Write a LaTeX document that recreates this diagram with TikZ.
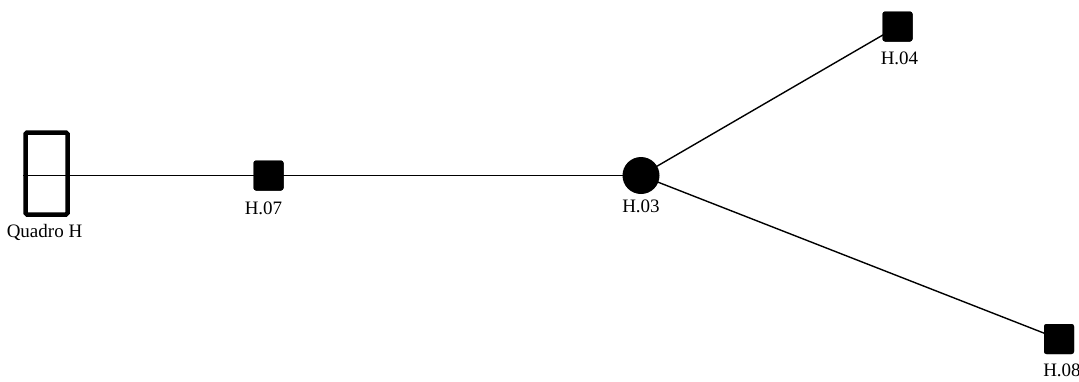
\documentclass[tikz,border=0pt]{standalone}
\usepackage{fontspec}
\setmainfont{Liberation Serif}
\usetikzlibrary{positioning}

\begin{document}
\begin{tikzpicture}[
        x=1pt, y=-1pt,
        font=\fontsize{19}{22}\selectfont,
        panel/.style={draw, line width=4.5pt, rounded corners=1.5pt, minimum width=42pt, minimum height=82pt, inner sep=0pt},
        outlet/.style={fill, rounded corners=2.5pt, minimum size=30pt, inner sep=0pt},
        junction/.style={circle, fill, minimum size=37pt, inner sep=0pt},
        tag/.style={inner sep=0pt, anchor=base},
        cable/.style={line width=1.4pt},
    ]
    \useasboundingbox (0,0) rectangle (1079,381);

    % --- Quadro ---
    \node[panel] (qh) at (46.5,173.5) {};
    \coordinate (qin) at (qh.west |- 0,175.5);
    \coordinate (qout) at (qh.east |- 0,175.5);
    \draw[cable] (qin) -- (qout);
    \node[tag] at (44.5,237) {Quadro H};

    % --- Pontos ---
    \coordinate (j03) at (641,175.5);
    \node[outlet] (h07) at (268.5,175.5) {};
    \node[outlet] (h04) at (897.5,26.5) {};
    \node[outlet] (h08) at (1059,339) {};

    % --- Ligações ---
    \draw[cable] (qout) -- (h07.center) -- (j03);
    \draw[cable] (j03) -- (h04.center);
    \draw[cable] (j03) -- (h08.center);
    \node[junction] (h03) at (j03) {};
    \node[outlet] at (h07) {};
    \node[outlet] at (h04) {};
    \node[outlet] at (h08) {};

    % --- Etiquetas ---
    \node[tag] at (263.5,214) {H.07};
    \node[tag] at (641,212) {H.03};
    \node[tag] at (899.5,64) {H.04};
    \node[tag] at (1062,376) {H.08};
\end{tikzpicture}
\end{document}
